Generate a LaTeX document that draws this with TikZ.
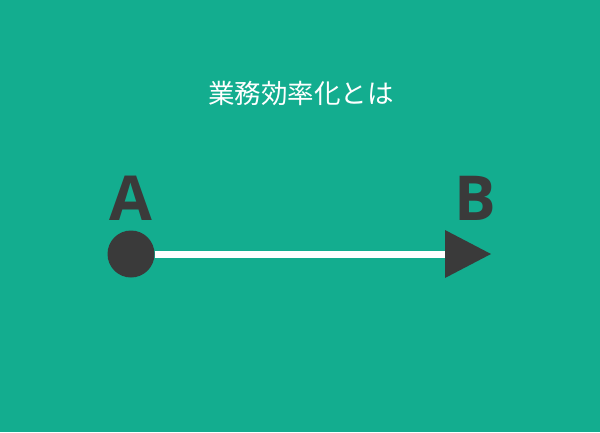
\documentclass[tikz,border=0pt]{standalone}
\usepackage{fontspec}
\setmainfont{Open Sans}
\newfontfamily\jpfont{Noto Sans CJK JP}
\definecolor{bgteal}{HTML}{13AD8F}
\definecolor{darkgrey}{HTML}{3A3A3A}
\begin{document}
\begin{tikzpicture}
  [
    x=1pt,
    y=-1pt,
    title/.style={
      text=white,
      font=\jpfont\fontsize{26.5}{26.5}\selectfont,
      inner sep=0
    },
    letter/.style={
      text=darkgrey,
      font=\bfseries\fontsize{62}{62}\selectfont,
      inner sep=0
    },
    dot/.style={
      circle,
      fill=darkgrey,
      minimum size=47pt,
      inner sep=0
    },
    track/.style={
      draw=white,
      line width=7pt
    }
  ]

  \fill [bgteal] (0,0) rectangle (600,432);
  \useasboundingbox (0,0) rectangle (600,432);

  \node [title] (heading) at (301,93) {業務効率化とは};

  \node [letter] (labelA) at (131,198) {A};
  \node [letter] (labelB) at (475,198) {B};

  \node [dot] (start) at (131,254) {};
  \coordinate (arrowbase) at (447,254);
  \draw [track] (start) -- (arrowbase);
  \fill [darkgrey] (445,230) -- (491,254) -- (445,278) -- cycle;

\end{tikzpicture}
\end{document}
